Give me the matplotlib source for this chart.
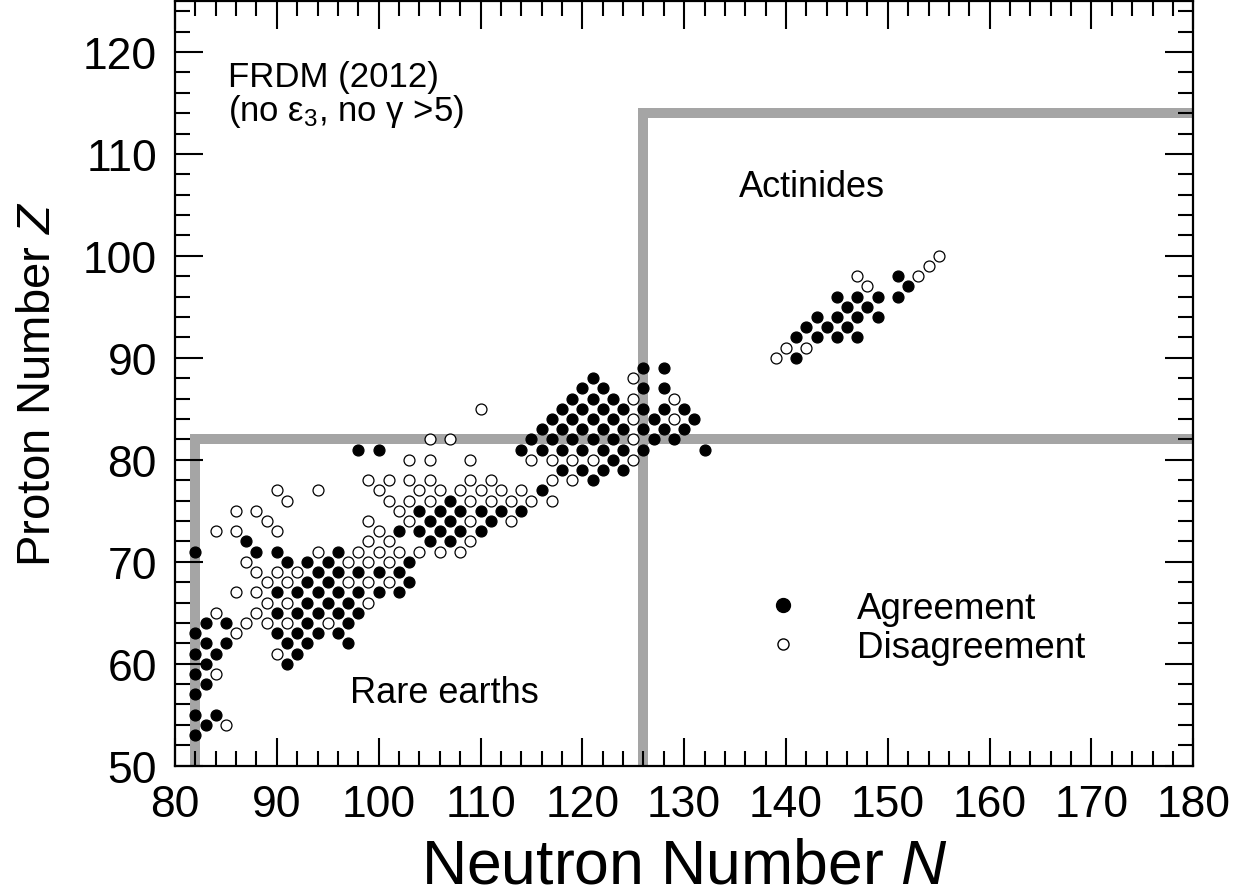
import matplotlib
matplotlib.use("Agg")
import matplotlib.pyplot as plt
from matplotlib.lines import Line2D

plt.rcParams['font.family'] = ['Liberation Sans', 'DejaVu Sans']
plt.rcParams['mathtext.fontset'] = 'custom'
plt.rcParams['mathtext.rm'] = 'Liberation Sans'
plt.rcParams['mathtext.it'] = 'Liberation Sans:italic'

# odd-A nuclei where the FRDM sign of the deformation agrees with experiment (N, Z)
agree = [
    (82, 53), (82, 55), (82, 57), (82, 59), (82, 61), (82, 63), (82, 71),
    (83, 54), (83, 58), (83, 60), (83, 62), (83, 64),
    (84, 55), (84, 61), (85, 62), (85, 64),
    (87, 72), (88, 71), (90, 71), (90, 67), (90, 65), (90, 63),
    (91, 70), (91, 62), (91, 60), (92, 67), (92, 65), (92, 63), (92, 61),
    (93, 70), (93, 68), (93, 66), (93, 64), (93, 62),
    (94, 69), (94, 67), (94, 65), (94, 63),
    (95, 70), (95, 68), (95, 66),
    (96, 71), (96, 69), (96, 67), (96, 65), (96, 63),
    (97, 66), (97, 64), (97, 62),
    (98, 81), (98, 69), (98, 67), (98, 65),
    (100, 81), (100, 69), (100, 67), (102, 73), (102, 69), (102, 67),
    (103, 70), (103, 68), (104, 75), (104, 73), (105, 74), (105, 72),
    (106, 75), (106, 73), (107, 76), (107, 74), (107, 72),
    (108, 75), (108, 73), (110, 75), (110, 73), (111, 74),
    (112, 75), (114, 75), (114, 81), (115, 82), (116, 83), (116, 81), (116, 77),
    (117, 84), (117, 82), (118, 85), (118, 83), (118, 81), (118, 79),
    (119, 86), (119, 84), (119, 82), (120, 87), (120, 85), (120, 83), (120, 81), (120, 79),
    (121, 88), (121, 86), (121, 84), (121, 82), (121, 78),
    (122, 87), (122, 85), (122, 83), (122, 81), (122, 79),
    (123, 86), (123, 84), (123, 82), (123, 80),
    (124, 85), (124, 83), (124, 81), (124, 79),
    (126, 89), (126, 87), (126, 85), (126, 83), (126, 81),
    (127, 84), (127, 82), (128, 89), (128, 87), (128, 85), (128, 83),
    (129, 82), (130, 85), (130, 83), (131, 84), (132, 81),
    (141, 90), (141, 92), (142, 93), (143, 92), (143, 94),
    (144, 93), (145, 92), (145, 94), (145, 96), (146, 93), (146, 95),
    (147, 92), (147, 94), (147, 96), (148, 95), (149, 94), (149, 96),
    (151, 96), (151, 98), (152, 97),
]

# nuclei where the signs disagree
disagree = [
    (84, 73), (84, 65), (84, 59), (85, 54),
    (86, 75), (86, 73), (86, 67), (86, 63),
    (87, 70), (87, 64), (88, 75), (88, 69), (88, 67), (88, 65),
    (89, 74), (89, 68), (89, 66), (89, 64),
    (90, 77), (90, 73), (90, 69), (90, 61),
    (91, 76), (91, 68), (91, 66), (91, 64), (92, 69),
    (94, 77), (94, 71), (95, 64), (97, 70), (97, 68), (98, 71),
    (99, 78), (99, 74), (99, 72), (99, 70), (99, 68), (99, 66),
    (100, 77), (100, 73), (100, 71),
    (101, 78), (101, 76), (101, 72), (101, 70), (101, 68),
    (102, 75), (102, 71), (103, 80), (103, 78), (103, 76), (103, 74),
    (104, 77), (104, 71), (105, 82), (105, 80), (105, 78), (105, 76),
    (106, 77), (106, 71), (107, 82), (108, 77), (108, 71),
    (109, 80), (109, 78), (109, 76), (109, 74), (109, 72),
    (110, 85), (110, 77), (111, 78), (111, 76), (112, 77),
    (113, 76), (113, 74), (114, 77), (115, 80), (115, 76),
    (117, 80), (117, 78), (117, 76), (119, 80), (119, 78),
    (121, 80), (125, 88), (125, 86), (125, 84), (125, 82), (125, 80),
    (129, 86), (129, 84),
    (139, 90), (140, 91), (142, 91), (147, 98), (148, 97),
    (153, 98), (154, 99), (155, 100),
]

# closed shells drawn as grey guide lines
n_magic = [82, 126]
z_magic = [82, 114]

fig = plt.figure(figsize=(12.51, 8.95), dpi=100)
ax = fig.add_axes([0.1399, 0.1434, 0.8140, 0.8544])

grey = '#a5a5a5'
ax.plot([n_magic[0], n_magic[0], 180], [50, z_magic[0], z_magic[0]],
        color=grey, lw=7.2, solid_joinstyle='miter', solid_capstyle='butt', zorder=1)
ax.plot([n_magic[1], n_magic[1], 180], [50, z_magic[1], z_magic[1]],
        color=grey, lw=7.2, solid_joinstyle='miter', solid_capstyle='butt', zorder=1)

ax.scatter([p[0] for p in agree], [p[1] for p in agree], s=62,
           facecolor='black', edgecolor='black', linewidths=0.9, zorder=3)
ax.scatter([p[0] for p in disagree], [p[1] for p in disagree], s=62,
           facecolor='white', edgecolor='black', linewidths=0.9, zorder=3)

ax.set_xlim(80, 180)
ax.set_ylim(50, 125)
ax.set_xticks(range(80, 181, 10))
ax.set_yticks(range(50, 121, 10))
ax.set_xticks(range(80, 181, 2), minor=True)
ax.set_yticks(range(50, 126, 2), minor=True)
ax.tick_params(which='both', direction='in', top=True, right=True,
               width=1.5, labelsize=32, pad=13)
ax.tick_params(which='major', length=20)
ax.tick_params(which='minor', length=11)
for sp in ax.spines.values():
    sp.set_linewidth(1.6)

ax.set_xlabel('Neutron Number $\\mathit{N}$', fontsize=45)
ax.set_ylabel('Proton Number $\\mathit{Z}$', fontsize=34)
ax.xaxis.set_label_coords(0.5, -0.093)
ax.yaxis.set_label_coords(-0.113, 0.5)

ax.text(85.2, 117.6, 'FRDM (2012)', fontsize=25, ha='left', va='center')
ax.text(85.2, 114.3, '(no ε$_3$, no γ >5)', fontsize=25, ha='left', va='center')
ax.text(142.5, 106.85, 'Actinides', fontsize=26, ha='center', va='center')
ax.text(106.5, 57.2, 'Rare earths', fontsize=26, ha='center', va='center')

handles = [
    Line2D([], [], ls='none', marker='o', markersize=10, markerfacecolor='black',
           markeredgecolor='black'),
    Line2D([], [], ls='none', marker='o', markersize=8, markerfacecolor='white',
           markeredgecolor='black', markeredgewidth=1.0),
]
ax.legend(handles, ['Agreement', 'Disagreement'], fontsize=26.5, frameon=False,
          loc='upper left', bbox_to_anchor=(0.5794, 0.229), borderpad=0,
          borderaxespad=0, handlelength=1.0, handletextpad=1.5, labelspacing=0.12)

fig.savefig('out.png', dpi=100)
